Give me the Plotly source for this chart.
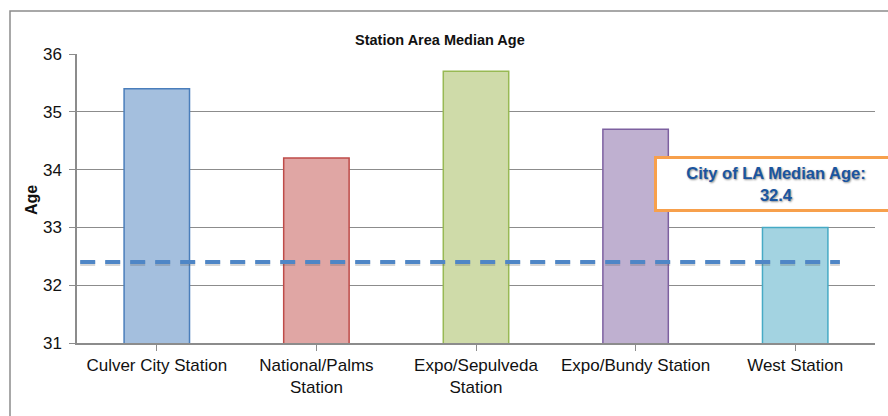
import plotly.graph_objects as go

# Station area median ages
stations = ["Culver City Station", "National/Palms<br>Station", "Expo/Sepulveda<br>Station",
            "Expo/Bundy Station", "West Station"]
median_age = [35.4, 34.2, 35.7, 34.7, 33.0]
fill_colors = ["#A4BFDE", "#E0A6A4", "#CFDBA9", "#BFB0D0", "#A3D3E1"]
edge_colors = ["#4A7EBB", "#BE4B48", "#98B954", "#7D60A0", "#46AAC5"]

city_median = 32.4
y_ticks = [31, 32, 33, 34, 35, 36]

W, H = 888, 416
L, R, T, B = 77, 13, 54, 73
pw, ph = W - L - R, H - T - B


def px_x(p):
    return (p - L) / pw


def px_y(p):
    return (H - B - p) / ph


fig = go.Figure()
fig.add_trace(go.Bar(
    x=list(range(len(stations))), y=median_age, base=0,
    marker=dict(color=fill_colors, line=dict(color=edge_colors, width=1.5)),
    width=0.41, showlegend=False, hoverinfo="y",
))

# city-wide median reference line (soft shadow, then the dashes)
line_x = [-0.48, 4.28]
fig.add_trace(go.Scatter(
    x=line_x, y=[city_median - 0.025, city_median - 0.025], mode="lines",
    line=dict(color="rgba(90,90,90,0.25)", width=5, dash="15px,10px"),
    showlegend=False, hoverinfo="skip",
))
fig.add_trace(go.Scatter(
    x=line_x, y=[city_median, city_median], mode="lines",
    line=dict(color="#4F86C6", width=4, dash="15px,10px"),
    showlegend=False, hoverinfo="skip",
))

fig.update_layout(
    width=W, height=H,
    margin=dict(l=L, r=R, t=T, b=B),
    paper_bgcolor="white", plot_bgcolor="white",
    font=dict(family="Liberation Sans, Arial, sans-serif", color="#111111"),
    bargap=0.59,
    xaxis=dict(
        range=[-0.5, 4.5], tickvals=list(range(len(stations))), ticktext=stations,
        showgrid=False, showline=True, linecolor="#8C8C8C", linewidth=1.5,
        ticks="outside", tickson="boundaries", ticklen=6, tickcolor="#8C8C8C",
        tickfont=dict(size=17, color="#111111"), zeroline=False,
    ),
    yaxis=dict(
        range=[31, 36], tickvals=y_ticks, showgrid=True, gridcolor="#8C8C8C", gridwidth=1.2,
        showline=True, linecolor="#8C8C8C", linewidth=1.5,
        ticks="outside", ticklen=6, tickcolor="#8C8C8C", ticklabelstandoff=4,
        tickfont=dict(size=17, color="#111111"), zeroline=False,
    ),
    shapes=[dict(
        type="rect", xref="paper", yref="paper",
        x0=px_x(10), x1=px_x(930), y0=px_y(430), y1=px_y(11),
        line=dict(color="#8C8C8C", width=1.5), fillcolor="rgba(0,0,0,0)", layer="below",
    )],
    annotations=[
        dict(text="<b>Station Area Median Age</b>", xref="paper", yref="paper",
             x=px_x(440), y=px_y(40), showarrow=False, xanchor="center", yanchor="middle",
             font=dict(size=14.5, color="#111111")),
        dict(text="<b>Age</b>", xref="paper", yref="paper",
             x=px_x(31), y=px_y(200), showarrow=False, textangle=-90,
             xanchor="center", yanchor="middle", font=dict(size=16, color="#111111")),
        dict(text=f"<b>City of LA Median Age:<br>{city_median}</b>", xref="paper", yref="paper",
             x=px_x(776), y=px_y(184), showarrow=False, xanchor="center", yanchor="middle",
             width=236, height=48, align="center", bgcolor="white",
             bordercolor="#F7A04C", borderwidth=3, borderpad=1,
             font=dict(size=16.5, color="#1A55A0", shadow="1px 1px 2px rgba(0,0,0,0.45)")),
    ],
)

fig.write_html("out.html")
